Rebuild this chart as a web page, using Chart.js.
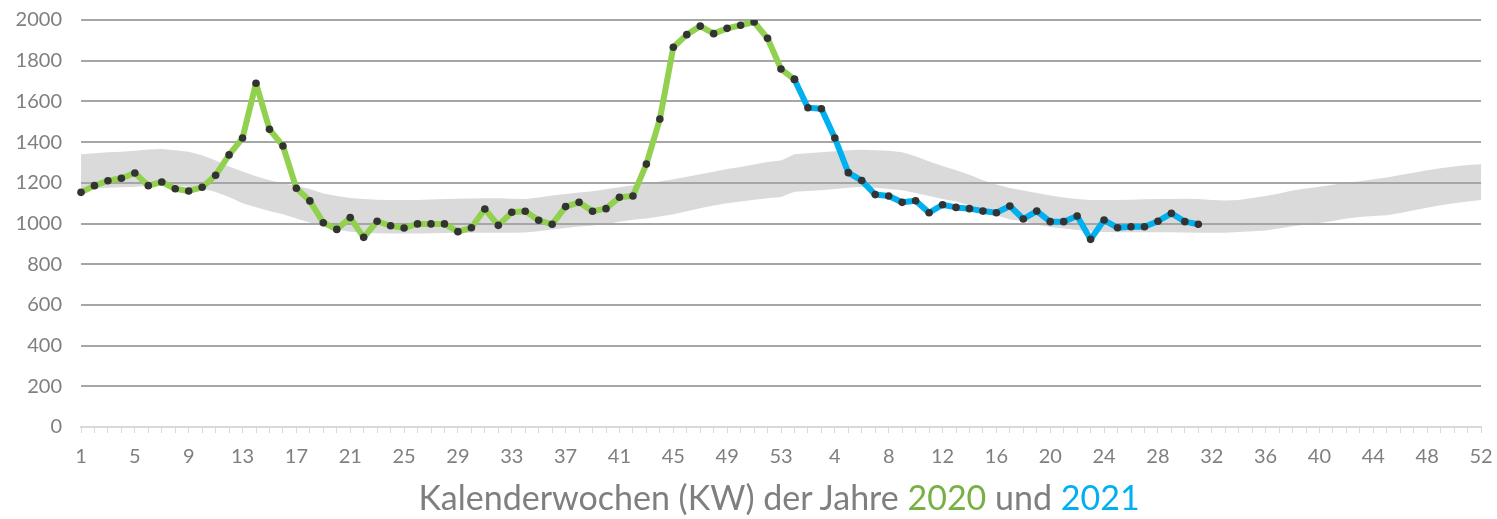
<!DOCTYPE html>
<html>
<head>
<meta charset="utf-8">
<script src="https://cdn.jsdelivr.net/npm/chart.js@4"></script>
<style>
    body { margin: 0; background: #fff; }
    #wrap { position: relative; width: 1497px; height: 519px; }
    #xtitle {
        position: absolute; left: 0; width: 1558px; top: 476px;
        text-align: center; font-family: Lato, sans-serif; font-size: 34px; color: #7f7f7f;
    }
    #xtitle .g { color: #77b044; }
    #xtitle .b { color: #00b0f0; }
</style>
</head>
<body>
<div id="wrap">
    <canvas id="chart" width="1497" height="519"></canvas>
    <div id="xtitle">Kalenderwochen (KW) der Jahre <span class="g">2020</span> und <span class="b">2021</span></div>
</div>
<script>
// Week labels: 2020 has 53 weeks, then 2021 weeks 1-52
const weeks2020 = [1,2,3,4,5,6,7,8,9,10,11,12,13,14,15,16,17,18,19,20,21,22,23,24,25,26,27,28,29,30,31,32,33,34,35,36,37,38,39,40,41,42,43,44,45,46,47,48,49,50,51,52,53];
const weeks2021 = [1,2,3,4,5,6,7,8,9,10,11,12,13,14,15,16,17,18,19,20,21,22,23,24,25,26,27,28,29,30,31,32,33,34,35,36,37,38,39,40,41,42,43,44,45,46,47,48,49,50,51,52];
const yTicks = [0, 200, 400, 600, 800, 1000, 1200, 1400, 1600, 1800, 2000];

// 2020 series (green), ends on the first point of 2021
const values2020 = [1153,1186,1210,1222,1248,1186,1204,1171,1160,1178,
    1237,1337,1420,1689,1463,1381,1173,1111,1004,971,
    1029,932,1011,989,978,998,998,998,960,979,
    1071,991,1055,1060,1016,996,1083,1104,1060,1073,
    1129,1135,1292,1513,1866,1928,1970,1933,1959,1974,
    1990,1910,1759,1708];

// 2021 series (blue), weeks 1-31
const values2021 = [1708,1569,1564,1420,1250,1211,1142,1135,1104,1112,
    1053,1092,1079,1073,1061,1053,1086,1022,1061,1009,
    1009,1037,922,1017,979,984,984,1011,1050,1009,996];

// grey band of previous years (upper / lower)
const bandUpper = [1340,1345,1350,1353,1358,1364,1366,1360,1352,1335,
    1310,1280,1255,1232,1212,1198,1185,1170,1148,1135,
    1125,1120,1117,1115,1115,1116,1118,1120,1122,1123,
    1124,1124,1122,1120,1128,1138,1145,1152,1158,1168,
    1178,1188,1196,1206,1218,1230,1242,1254,1268,1278,
    1290,1302,1310,1340,1345,1350,1355,1360,1362,1360,
    1357,1350,1330,1305,1282,1262,1240,1212,1192,1175,
    1162,1150,1138,1128,1120,1116,1115,1115,1117,1119,
    1120,1121,1122,1120,1116,1113,1115,1125,1135,1148,
    1162,1172,1181,1190,1200,1208,1218,1226,1238,1250,
    1262,1272,1280,1288,1291];
const bandLower = [1167,1172,1176,1178,1180,1184,1188,1185,1180,1172,
    1155,1130,1100,1080,1062,1045,1025,1005,985,970,
    960,954,952,951,951,951,952,953,954,954,
    954,954,955,956,962,970,978,985,990,998,
    1008,1018,1025,1034,1045,1060,1075,1088,1099,1108,
    1117,1124,1130,1156,1160,1164,1170,1176,1180,1176,
    1170,1164,1150,1135,1120,1108,1090,1068,1040,1020,
    1011,995,983,975,968,962,958,957,957,957,
    957,957,956,955,955,955,958,962,966,975,
    986,995,1003,1012,1025,1032,1037,1040,1052,1065,
    1078,1090,1100,1108,1115];

const labels = weeks2020.concat(weeks2021).map(String);
const offset2021 = weeks2020.length; // index of 2021 week 1

const green = labels.map((_, i) => i < values2020.length ? values2020[i] : null);
const blue = labels.map((_, i) => {
    const j = i - offset2021;
    return (j >= 0 && j < values2021.length) ? values2021[j] : null;
});

const FONT = 'Lato, sans-serif';

const lineStyle = {
    borderWidth: 6,
    borderJoinStyle: 'round',
    borderCapStyle: 'round',
    pointRadius: 3.8,
    pointBackgroundColor: '#333333',
    pointBorderWidth: 0,
    fill: false
};

new Chart(document.getElementById('chart'), {
    type: 'line',
    data: {
        labels: labels,
        datasets: [
            Object.assign({ label: '2021', data: blue, borderColor: '#00b0f0', order: 1 }, lineStyle),
            Object.assign({ label: '2020', data: green, borderColor: '#92d050', order: 2 }, lineStyle),
            {
                label: 'min',
                data: bandLower,
                borderWidth: 0,
                pointRadius: 0,
                fill: false,
                order: 3
            },
            {
                label: 'max',
                data: bandUpper,
                borderWidth: 0,
                pointRadius: 0,
                backgroundColor: 'rgba(166,166,166,0.42)',
                fill: '-1',
                order: 4
            }
        ]
    },
    options: {
        responsive: false,
        animation: false,
        layout: { padding: { top: 20, right: 16, left: 0, bottom: 0 } },
        plugins: {
            legend: { display: false },
            tooltip: { enabled: false }
        },
        scales: {
            x: {
                afterFit: s => { s.height = 92; s.paddingLeft = 0; s.paddingRight = 0; },
                border: { display: true, color: '#d9d9d9', width: 2 },
                grid: { drawOnChartArea: false, drawTicks: true, tickLength: 6, color: '#d9d9d9', lineWidth: 1 },
                ticks: {
                    autoSkip: false,
                    maxRotation: 0,
                    padding: 12,
                    color: '#7f7f7f',
                    font: { family: FONT, size: 20 },
                    callback: (v, i) => i % 4 === 0 ? labels[i] : ''
                }
            },
            y: {
                min: 0,
                max: 2000,
                afterFit: s => { s.width = 81; s.paddingTop = 0; s.paddingBottom = 0; },
                afterBuildTicks: s => { s.ticks = yTicks.map(v => ({ value: v })); },
                border: { display: false },
                grid: {
                    drawTicks: false,
                    lineWidth: 2,
                    color: c => c.tick.value === 0 ? 'rgba(0,0,0,0)' : '#a6a6a6'
                },
                ticks: {
                    padding: 19,
                    color: '#7f7f7f',
                    font: { family: FONT, size: 20 },
                    callback: v => String(v)
                }
            }
        }
    }
});
</script>
</body>
</html>
